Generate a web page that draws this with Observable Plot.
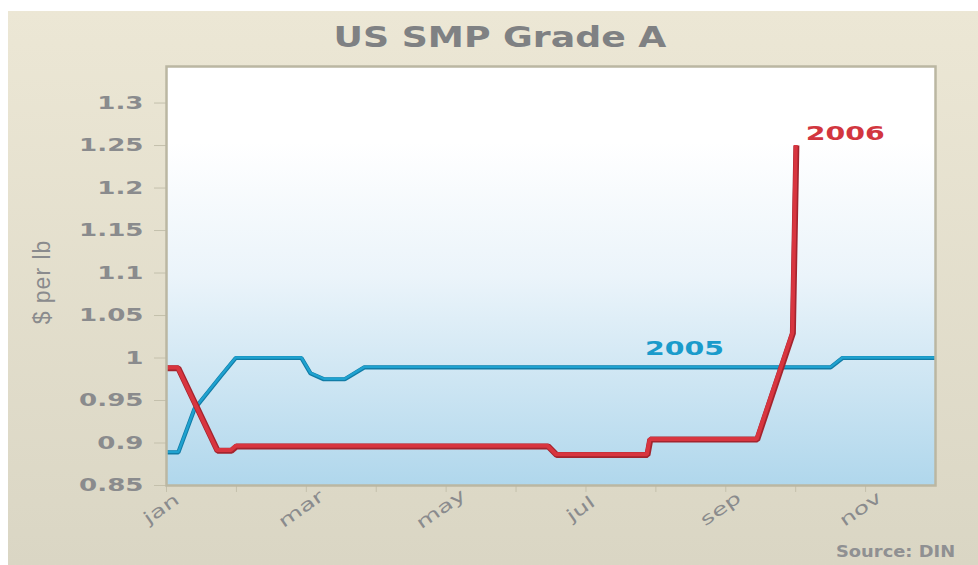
<!DOCTYPE html>
<html>
<head>
<meta charset="utf-8">
<script src="https://cdn.jsdelivr.net/npm/d3@7"></script>
<script src="https://cdn.jsdelivr.net/npm/@observablehq/plot@0.6"></script>
<style>
  html, body { margin: 0; padding: 0; background: #ffffff; }
  #wrap { position: relative; width: 978px; height: 565px; overflow: hidden; background: #ffffff; }
  #panel { position: absolute; left: 8px; top: 11px; right: 0; bottom: 0;
           background: linear-gradient(#ece7d5, #dad6c4); }
  #chart { position: absolute; left: 0; top: 0; }
  #title { position: absolute; left: 500px; top: 23px; white-space: nowrap;
           font: bold 29px/29px "DejaVu Sans", sans-serif; color: #7f8183;
           transform: translateX(-50%) scaleX(1.25); transform-origin: center; }
  #ylabel { position: absolute; left: 42px; top: 282px; white-space: nowrap;
            font: 23px/23px "Liberation Sans Narrow", "Liberation Sans", sans-serif; color: #8a8b8d;
            letter-spacing: 1px;
            transform: translate(-50%, -50%) rotate(-90deg); }
  #source { position: absolute; left: 836px; top: 545px; white-space: nowrap;
            font: bold 15px/15px "DejaVu Sans", sans-serif; color: #8f9092;
            transform: scaleX(1.19); transform-origin: left center; }
</style>
</head>
<body>
<div id="wrap">
  <div id="panel"></div>
  <div id="chart"></div>
  <div id="title">US SMP Grade A</div>
  <div id="ylabel">$ per lb</div>
  <div id="source">Source: DIN</div>
</div>
<script>
// ---- data (x in months since 1 Jan, 0 = jan … 11 = dec) ----
const months      = ["jan","feb","mar","apr","may","jun","jul","aug","sep","oct","nov"];
const monthLabels = ["jan","","mar","","may","","jul","","sep","","nov"];
const yTicks      = [0.85, 0.9, 0.95, 1, 1.05, 1.1, 1.15, 1.2, 1.25, 1.3];
const yTickLabels = ["0.85","0.9","0.95","1","1.05","1.1","1.15","1.2","1.25","1.3"];

const month2005 = [0, 0.17, 0.40, 0.77, 0.99, 1.93, 2.06, 2.25, 2.55, 2.83, 9.50, 9.67, 11];
const price2005 = [0.889, 0.889, 0.940, 0.978, 1.000, 1.000, 0.982, 0.975, 0.975, 0.989, 0.989, 1.000, 1.000];

const month2006 = [0, 0.17, 0.73, 0.93, 1.00, 5.46, 5.58, 6.88, 6.92, 8.45, 8.96, 9.01];
const price2006 = [0.988, 0.988, 0.891, 0.891, 0.896, 0.896, 0.886, 0.886, 0.904, 0.904, 1.029, 1.250];

const seriesNames  = ["2005", "2006"];
const seriesColors = ["#1a9bcb", "#d2363f"];
const labelMonth   = [7.41, 9.71];
const labelPrice   = [1.011, 1.264];

// ---- tables built from the arrays ----
const d2005 = month2005.map((m, i) => ({m, v: price2005[i]}));
const d2006 = month2006.map((m, i) => ({m, v: price2006[i]}));
const seriesLabels = seriesNames.map((name, i) => ({name, m: labelMonth[i], v: labelPrice[i], color: seriesColors[i]}));
const monthTicks = months.map((name, i) => ({i, label: monthLabels[i]})).filter(d => d.label);

const chart = Plot.plot({
  width: 978,
  height: 565,
  marginLeft: 166,
  marginRight: 43,
  marginTop: 66,
  marginBottom: 80,
  style: {background: "transparent", fontFamily: "DejaVu Sans", fontSize: "18px", color: "#c4c0ac", overflow: "visible"},
  x: {domain: [0, 11], ticks: d3.range(months.length), tickSize: 7, tickFormat: () => "", label: null},
  y: {domain: [0.85, 1.343], ticks: yTicks, tickSize: 12, tickPadding: 11,
      tickFormat: d => yTickLabels[yTicks.indexOf(d)], label: null},
  marks: [
    Plot.frame({fill: "url(#plotbg)"}),
    Plot.line(d2005, {x: "m", y: "v", stroke: "#117ca6", strokeWidth: 4.2, strokeLinejoin: "miter", strokeLinecap: "butt"}),
    Plot.line(d2005, {x: "m", y: "v", stroke: "#1fa2d0", strokeWidth: 2.4, dy: -0.5, strokeLinejoin: "miter", strokeLinecap: "butt"}),
    Plot.line(d2006, {x: "m", y: "v", stroke: "#a3242e", strokeWidth: 6, strokeLinejoin: "miter", strokeLinecap: "butt"}),
    Plot.line(d2006, {x: "m", y: "v", stroke: "#d8353f", strokeWidth: 4, dx: -0.6, dy: -0.6, strokeLinejoin: "miter", strokeLinecap: "butt"}),
    Plot.text(seriesLabels, {x: "m", y: "v", text: "name", fill: "color", fontSize: 20, fontWeight: "bold"}),
    Plot.text(monthTicks, {x: "i", frameAnchor: "bottom", dy: 28, dx: -2, rotate: -35, text: "label",
                           fill: "#8a8b8d", fontSize: 17, fontWeight: 500}),
    Plot.frame({stroke: "#bbb7a2", strokeWidth: 2.5})
  ]
});

document.getElementById("chart").appendChild(chart);

// gradient for the plot area
d3.select(chart).insert("defs", ":first-child").html(
  '<linearGradient id="plotbg" x1="0" y1="0" x2="0" y2="1">' +
  '<stop offset="0" stop-color="#ffffff"/>' +
  '<stop offset="0.18" stop-color="#ffffff"/>' +
  '<stop offset="0.5" stop-color="#ebf4fa"/>' +
  '<stop offset="1" stop-color="#b0d7ec"/>' +
  '</linearGradient>'
);

// y-axis label styling
d3.select(chart).selectAll('g[aria-label^="y-axis"] text')
  .attr("fill", "#8a8b8d").attr("font-weight", "bold").attr("font-size", 18);

// widen the glyphs to mimic the extended typeface of the original
function stretch(el, f) {
  const w = el.getComputedTextLength();
  if (w > 0) {
    el.setAttribute("textLength", (w * f).toFixed(1));
    el.setAttribute("lengthAdjust", "spacingAndGlyphs");
  }
}
d3.select(chart).selectAll('g[aria-label^="y-axis"] text').each(function() { stretch(this, 1.45); });
d3.select(chart).selectAll('g[aria-label="text"] text').each(function() {
  stretch(this, this.getAttribute("font-weight") === "bold" || this.parentNode.getAttribute("font-weight") === "bold" ? 1.42 : 1.5);
});
</script>
</body>
</html>
